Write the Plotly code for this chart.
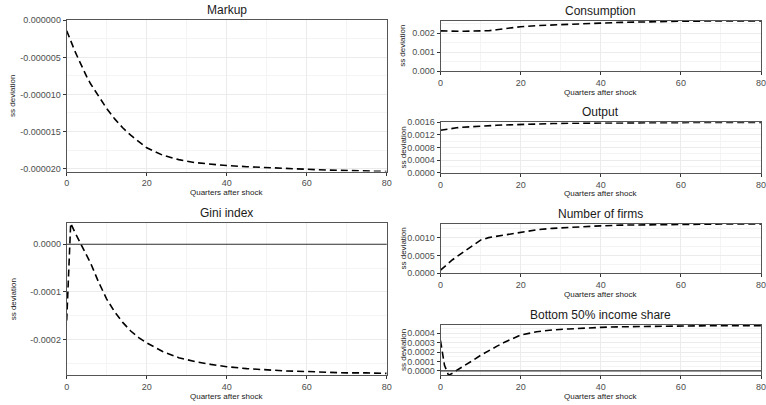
import plotly.graph_objects as go

W, H = 766, 405

quarters = [0, 1, 2, 3, 4, 5, 6, 8, 10, 12, 14, 16, 18, 20, 24, 28, 32, 36, 40, 45, 50, 55, 60, 65, 70, 75, 80]

markup = [v * 1e-6 for v in [-1.4, -2.8, -4.1, -5.3, -6.5, -7.6, -8.6, -10.3, -11.9, -13.3, -14.5, -15.5, -16.4,
                             -17.2, -18.2, -18.8, -19.2, -19.45, -19.6, -19.75, -19.9, -20.0, -20.1, -20.2, -20.25,
                             -20.3, -20.4]]
consumption = [v * 1e-3 for v in [2.13, 2.12, 2.12, 2.11, 2.11, 2.11, 2.11, 2.11, 2.12, 2.14, 2.19, 2.25, 2.31,
                                  2.35, 2.41, 2.45, 2.48, 2.51, 2.54, 2.58, 2.61, 2.63, 2.64, 2.65, 2.66, 2.66, 2.66]]
output = [v * 1e-3 for v in [1.345, 1.37, 1.39, 1.41, 1.425, 1.44, 1.45, 1.47, 1.485, 1.495, 1.505, 1.515, 1.525,
                             1.535, 1.55, 1.56, 1.57, 1.575, 1.58, 1.585, 1.59, 1.59, 1.595, 1.595, 1.597, 1.597,
                             1.598]]
gini = [v * 1e-4 for v in [-1.6, 0.44, 0.26, 0.1, -0.05, -0.22, -0.4, -0.8, -1.15, -1.42, -1.64, -1.82, -1.96,
                           -2.07, -2.25, -2.38, -2.46, -2.52, -2.57, -2.61, -2.64, -2.66, -2.67, -2.69, -2.70, -2.70,
                           -2.71]]
firms = [v * 1e-3 for v in [0.09, 0.19, 0.29, 0.38, 0.46, 0.54, 0.61, 0.78, 0.93, 1.0, 1.04, 1.08, 1.12, 1.16,
                            1.22, 1.26, 1.29, 1.31, 1.33, 1.35, 1.36, 1.37, 1.375, 1.38, 1.38, 1.385, 1.385]]
bottom50 = [v * 1e-4 for v in [3.2, 0.6, -0.45, -0.25, 0.05, 0.3, 0.55, 1.1, 1.65, 2.15, 2.6, 3.05, 3.45, 3.8,
                               4.15, 4.35, 4.45, 4.55, 4.62, 4.68, 4.72, 4.75, 4.77, 4.78, 4.79, 4.8, 4.8]]

titles = ["Markup", "Consumption", "Output", "Gini index", "Number of firms", "Bottom 50% income share"]
x_ticks = [0, 20, 40, 60, 80]
x_ticklabels = ["0", "20", "40", "60", "80"]

markup_ticks = [-0.00002, -0.000015, -0.00001, -0.000005, 0.0]
markup_ticklabels = ["-0.000020", "-0.000015", "-0.000010", "-0.000005", "0.000000"]
cons_ticks = [0.0, 0.001, 0.002]
cons_ticklabels = ["0.000", "0.001", "0.002"]
out_ticks = [0.0, 0.0004, 0.0008, 0.0012, 0.0016]
out_ticklabels = ["0.0000", "0.0004", "0.0008", "0.0012", "0.0016"]
gini_ticks = [-0.0002, -0.0001, 0.0]
gini_ticklabels = ["-0.0002", "-0.0001", "0.0000"]
firms_ticks = [0.0, 0.0005, 0.001]
firms_ticklabels = ["0.0000", "0.0005", "0.0010"]
b50_ticks = [0.0, 0.0001, 0.0002, 0.0003, 0.0004]
b50_ticklabels = ["0.0000", "0.0001", "0.0002", "0.0003", "0.0004"]

# panel pixel boxes: (x0, x1, y0_top, y1_bottom)
panels = [
    (66.7, 386.7, 20.3, 171.5),
    (440.5, 761, 20.7, 71),
    (440.5, 761, 122.3, 172.7),
    (66.7, 386.7, 223.3, 375.3),
    (440.5, 761, 223.7, 273.3),
    (440.5, 761, 324.7, 375.3),
]
series = [markup, consumption, output, gini, firms, bottom50]
yranges = [
    [-0.0000204, 0.0],
    [0.0, 0.00267],
    [0.0, 0.0016],
    [-0.000275, 0.000044],
    [0.0, 0.00139],
    [-0.000046, 0.00049],
]
yticks = [(markup_ticks, markup_ticklabels), (cons_ticks, cons_ticklabels), (out_ticks, out_ticklabels),
          (gini_ticks, gini_ticklabels), (firms_ticks, firms_ticklabels), (b50_ticks, b50_ticklabels)]
zero_line = [False, False, False, True, False, True]

FONT = "Liberation Sans, Arial, sans-serif"
fig = go.Figure()
layout = {}
annotations = []
shapes = []

for i, (box, ys, yr, (tv, tt), zl, title) in enumerate(zip(panels, series, yranges, yticks, zero_line, titles)):
    n = "" if i == 0 else str(i + 1)
    x0, x1, yt, yb = box
    xd = [x0 / W, x1 / W]
    yd = [1 - yb / H, 1 - yt / H]
    fig.add_trace(go.Scatter(x=quarters, y=ys, mode="lines", xaxis="x" + n, yaxis="y" + n,
                             line=dict(color="black", width=1.6, dash="7px,4px"), showlegend=False,
                             hoverinfo="skip"))
    layout["xaxis" + n] = dict(
        domain=xd, anchor="y" + n, range=[0, 80], tickvals=x_ticks, ticktext=x_ticklabels,
        automargin=False, ticklabeloverflow="allow",
        showgrid=True, gridcolor="#ebebeb", gridwidth=1, zeroline=False,
        ticks="outside", ticklen=3, tickcolor="#333333", tickwidth=1,
        tickfont=dict(family=FONT, size=9, color="#4d4d4d"),
        showline=True, linecolor="#555555", linewidth=1, mirror=True,
        minor=dict(tickmode="linear", tick0=10, dtick=20, showgrid=True, gridcolor="#f4f4f4", gridwidth=1, ticks=""),
    )
    minor_step = (tv[1] - tv[0]) / 2
    layout["yaxis" + n] = dict(
        domain=yd, anchor="x" + n, range=yr, tickvals=tv, ticktext=tt,
        automargin=False, ticklabeloverflow="allow",
        showgrid=True, gridcolor="#ebebeb", gridwidth=1, zeroline=False,
        ticks="outside", ticklen=3, tickcolor="#333333", tickwidth=1,
        tickfont=dict(family=FONT, size=9, color="#4d4d4d"),
        showline=True, linecolor="#555555", linewidth=1, mirror=True,
        minor=dict(tickmode="linear", tick0=tv[0] - minor_step, dtick=tv[1] - tv[0], showgrid=True,
                   gridcolor="#f4f4f4", gridwidth=1, ticks=""),
    )
    if zl:
        shapes.append(dict(type="line", xref="x" + n + " domain", yref="y" + n, x0=0, x1=1, y0=0, y1=0,
                           line=dict(color="#333333", width=1.2), layer="above"))
    cx = (x0 + x1) / 2 / W
    annotations.append(dict(text=title, x=cx, y=1 - (yt - 10) / H, xref="paper", yref="paper",
                            showarrow=False, font=dict(family=FONT, size=12, color="#1a1a1a"),
                            xanchor="center", yanchor="middle"))
    annotations.append(dict(text="Quarters after shock", x=cx, y=1 - (yb + 21) / H, xref="paper", yref="paper",
                            showarrow=False, font=dict(family=FONT, size=8, color="#1a1a1a"),
                            xanchor="center", yanchor="middle"))
    yx = 13 if x0 < 100 else 403
    annotations.append(dict(text="ss deviation", x=yx / W, y=1 - (yt + yb) / 2 / H, xref="paper", yref="paper",
                            showarrow=False, textangle=-90, font=dict(family=FONT, size=8, color="#1a1a1a"),
                            xanchor="center", yanchor="middle"))

fig.update_layout(
    width=W, height=H, margin=dict(l=0, r=0, t=0, b=0, autoexpand=False),
    paper_bgcolor="white", plot_bgcolor="white",
    annotations=annotations, shapes=shapes, **layout,
)
fig.write_html("out.html", config={"displayModeBar": False, "staticPlot": True},
               post_script="document.body.style.margin='0';document.body.style.overflow='hidden';")
